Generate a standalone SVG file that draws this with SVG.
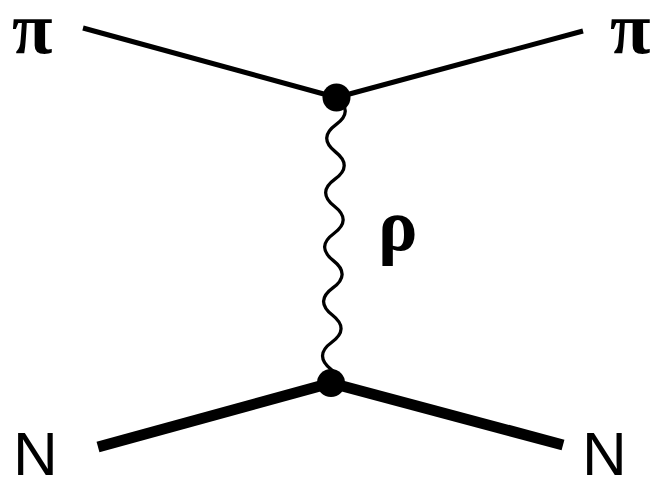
<svg xmlns="http://www.w3.org/2000/svg" width="662" height="481" viewBox="0 0 662 481">
<style>
.greek{font-family:"Liberation Serif","Times New Roman",serif;font-weight:bold;font-size:74px;fill:#000}
.nuc{font-family:"Liberation Sans",Arial,sans-serif;font-size:62px;fill:#000}
.thin{stroke:#000;stroke-width:5;fill:none}
.thick{stroke:#000;stroke-width:11;fill:none}
.wave{stroke:#000;stroke-width:3.3;fill:none}
.vtx{fill:#000}
</style>
<rect width="662" height="481" fill="#fff"/>
<g id="connectors">
<line class="thin" x1="83" y1="28" x2="336.5" y2="97.5"/>
<line class="thin" x1="336.5" y1="97.5" x2="583" y2="31"/>
<line class="thick" x1="98" y1="447" x2="331" y2="383"/>
<line class="thick" x1="331" y1="383" x2="563" y2="445"/>
<path class="wave" transform="translate(336.5,97.5) rotate(1.1)" d="M0 0 Q18 13.6 0 27.2 T0 54.4 T0 81.6 T0 108.8 T0 136 T0 163.2 T0 190.4 T0 217.6 T0 244.8 T0 272 Q8 278 8 285.6"/>
</g>
<g id="vertex-top"><circle class="vtx" cx="336.5" cy="97.5" r="14"/></g>
<g id="vertex-bottom"><circle class="vtx" cx="331" cy="383" r="14"/></g>
<g id="pi-in"><text class="greek" x="12" y="53">π</text></g>
<g id="pi-out"><text class="greek" x="610" y="53">π</text></g>
<g id="rho"><text class="greek" x="378" y="250">ρ</text></g>
<g id="N-in"><text class="nuc" x="13" y="475">N</text></g>
<g id="N-out"><text class="nuc" x="582" y="475">N</text></g>
</svg>
